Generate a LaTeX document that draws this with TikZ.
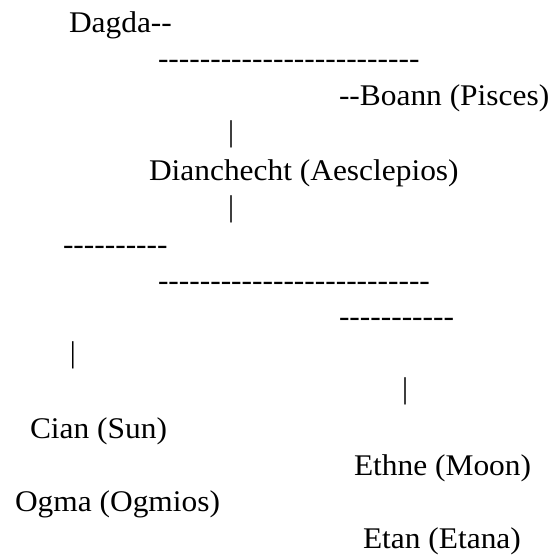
\documentclass[tikz,border=0pt]{standalone}
\usepackage{fontspec}
\setmainfont{Liberation Serif}[Ligatures=TeXOff]
\newcommand\widetxt[1]{\scalebox{1.047}[1]{#1}}
\begin{document}
\begin{tikzpicture}[x=1pt,y=-1pt,
  txt/.style={anchor=base west,inner sep=0pt,outer sep=0pt,font=\fontsize{30}{36}\selectfont},
  bar/.style={anchor=base,inner sep=0pt,outer sep=0pt,font=\fontsize{30}{36}\selectfont}]
\useasboundingbox[fill=white] (0,0) rectangle (554,556);
\node[txt] (dagda) at (69,33) {\widetxt{Dagda--}};
\node[txt] (d1) at (158,69) {\widetxt{-------------------------}};
\node[txt] (boann) at (339,106) {\widetxt{--Boann (Pisces)}};
\node[bar] (b1) at (231,142) {|};
\node[txt] (dian) at (149,180) {\widetxt{Dianchecht (Aesclepios)}};
\node[bar] (b2) at (231,216) {|};
\node[txt] (d2) at (63,254) {\widetxt{----------}};
\node[txt] (d3) at (158,290) {\widetxt{--------------------------}};
\node[txt] (d4) at (339,326) {\widetxt{-----------}};
\node[bar] (b3) at (73,362) {|};
\node[bar] (b4) at (405,398) {|};
\node[txt] (cian) at (30,438) {\widetxt{Cian (Sun)}};
\node[txt] (ethne) at (354,475) {\widetxt{Ethne (Moon)}};
\node[txt] (ogma) at (15,511) {\widetxt{Ogma (Ogmios)}};
\node[txt] (etan) at (363,548) {\widetxt{Etan (Etana)}};
\end{tikzpicture}
\end{document}
